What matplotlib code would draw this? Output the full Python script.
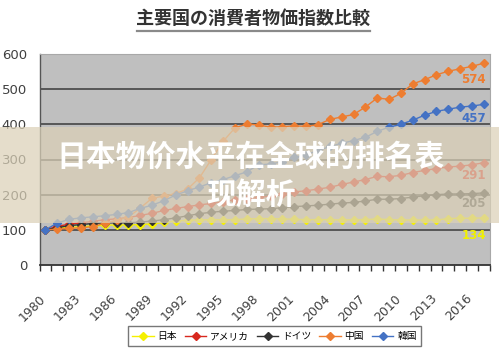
import matplotlib
matplotlib.use("Agg")
import matplotlib.pyplot as plt
from matplotlib.patches import Rectangle
from matplotlib.lines import Line2D
from matplotlib.transforms import blended_transform_factory

plt.rcParams['font.family'] = ['Noto Sans CJK JP', 'DejaVu Sans']

years = list(range(1980, 2018))
tick_years = list(range(1980, 2017, 3))

japan = [100, 105, 107, 109, 111, 113, 114, 114, 115, 117, 121, 125, 127, 128, 129, 129, 129, 131, 132, 132,
         131, 130, 129, 129, 129, 128, 129, 129, 131, 129, 128, 128, 128, 128, 132, 133, 133, 134]
usa = [100, 110, 116, 120, 124, 129, 131, 135, 141, 147, 155, 161, 166, 171, 175, 180, 185, 189, 192, 196,
       202, 208, 211, 216, 221, 229, 236, 243, 252, 251, 255, 263, 269, 274, 279, 281, 285, 291]
germany = [100, 106, 112, 115, 118, 120, 120, 120, 122, 125, 129, 134, 140, 146, 150, 153, 155, 158, 159, 160,
           163, 166, 168, 170, 173, 176, 178, 182, 187, 187, 189, 193, 197, 200, 202, 202, 203, 205]
china = [100, 102, 104, 106, 109, 119, 127, 136, 162, 190, 196, 203, 216, 248, 300, 352, 390, 401, 398, 392,
         393, 396, 394, 399, 414, 421, 428, 449, 475, 471, 488, 515, 527, 541, 551, 558, 565, 574]
korea = [100, 119, 130, 134, 137, 140, 144, 149, 161, 170, 183, 199, 211, 222, 234, 243, 254, 265, 285, 287,
         294, 306, 314, 325, 337, 346, 354, 363, 380, 392, 400, 412, 426, 437, 443, 449, 452, 457]

names = ['日本', 'アメリカ', 'ドイツ', '中国', '韓国']
series = [japan, usa, germany, china, korea]
colors = ['#F5F000', '#D8281E', '#333333', '#ED7D31', '#4472C4']
label_colors = ['#F0F000', '#D8281E', '#404040', '#ED7D31', '#4472C4']
label_offsets = [-18, -13, -11, -16, -14]

W, H = 499, 352
fig = plt.figure(figsize=(W / 100, H / 100), dpi=100)
fig.patch.set_facecolor('white')
ax_h = 265 - 54
ax = fig.add_axes([39.5 / W, 1 - 265 / H, (489.8 - 39.5) / W, ax_h / H])
ax.set_facecolor('#BFBFBF')

x = list(range(len(years)))
for vals, name, c in zip(series, names, colors):
    ax.plot(x, vals, color=c, lw=1.0, marker='D', ms=3.6, mec=c, mfc=c, label=name, zorder=3)

for vals, c, off in zip(series, label_colors, label_offsets):
    ax.annotate(str(vals[-1]), (x[-1], vals[-1]), xytext=(2 * 0.72, off * 0.72),
                textcoords='offset points', ha='right', va='center',
                fontsize=8.5, fontweight='bold', color=c, family='DejaVu Sans', zorder=4)

ax.set_xlim(-0.5, len(years) - 0.5)
ax.set_ylim(0, 600)
ax.set_yticks(range(0, 601, 100))
for v in range(100, 600, 100):
    ax.axhline(v, color='#3a3a3a', lw=1.1, zorder=1)

ax.set_xticks([])
ax.set_xticks([i + 0.5 for i in range(-1, len(years))], minor=True)
ax.tick_params(axis='x', which='minor', length=4, width=1, color='#333333', direction='out')
trans = blended_transform_factory(ax.transData, ax.transAxes)
for ty in tick_years:
    ax.text(years.index(ty) - 0.55, -27 / ax_h, str(ty), transform=trans, rotation=45,
            rotation_mode='anchor', ha='right', va='top', fontsize=9, color='#404040',
            family='DejaVu Sans', clip_on=False)

ax.tick_params(axis='y', length=0, labelsize=9.5, labelcolor='#404040', pad=9)
for lab in ax.get_yticklabels():
    lab.set_family('DejaVu Sans')

ax.spines['left'].set_color('#555555')
ax.spines['left'].set_linewidth(1.0)
ax.spines['bottom'].set_color('#333333')
ax.spines['bottom'].set_linewidth(1.3)
ax.spines['top'].set_color('#A8A8A8')
ax.spines['right'].set_color('#A8A8A8')

leg = fig.legend(loc='center', bbox_to_anchor=(274.5 / W, 1 - 336 / H), ncol=5, fontsize=7,
                 frameon=True, fancybox=False, edgecolor='#555555', handlelength=2.2,
                 columnspacing=0.8, handletextpad=0.4, borderpad=0.5)
leg.get_frame().set_linewidth(1.0)

fig.text(253 / W, 1 - 18 / H, '主要国の消費者物価指数比較', ha='center', va='center',
         fontsize=13, fontweight='bold', color='#333333')
fig.add_artist(Line2D([137 / W, 370 / W], [1 - 31 / H, 1 - 31 / H], color='#8a8a8a', lw=1.6,
                      transform=fig.transFigure))

band = Rectangle((0, 1 - 223 / H), 1, 96 / H, transform=fig.transFigure,
                 facecolor=(219 / 255, 209 / 255, 184 / 255), alpha=0.72, edgecolor='none', zorder=5)
fig.add_artist(band)
fig.text(251 / W, 1 - 157 / H, '日本物价水平在全球的排名表', ha='center', va='center',
         fontsize=21.5, fontweight='black', color='white', family=['Noto Sans CJK SC', 'DejaVu Sans'], zorder=6)
fig.text(251 / W, 1 - 195 / H, '现解析', ha='center', va='center',
         fontsize=21.5, fontweight='black', color='white', family=['Noto Sans CJK SC', 'DejaVu Sans'], zorder=6)

fig.savefig('out.png', dpi=100)
